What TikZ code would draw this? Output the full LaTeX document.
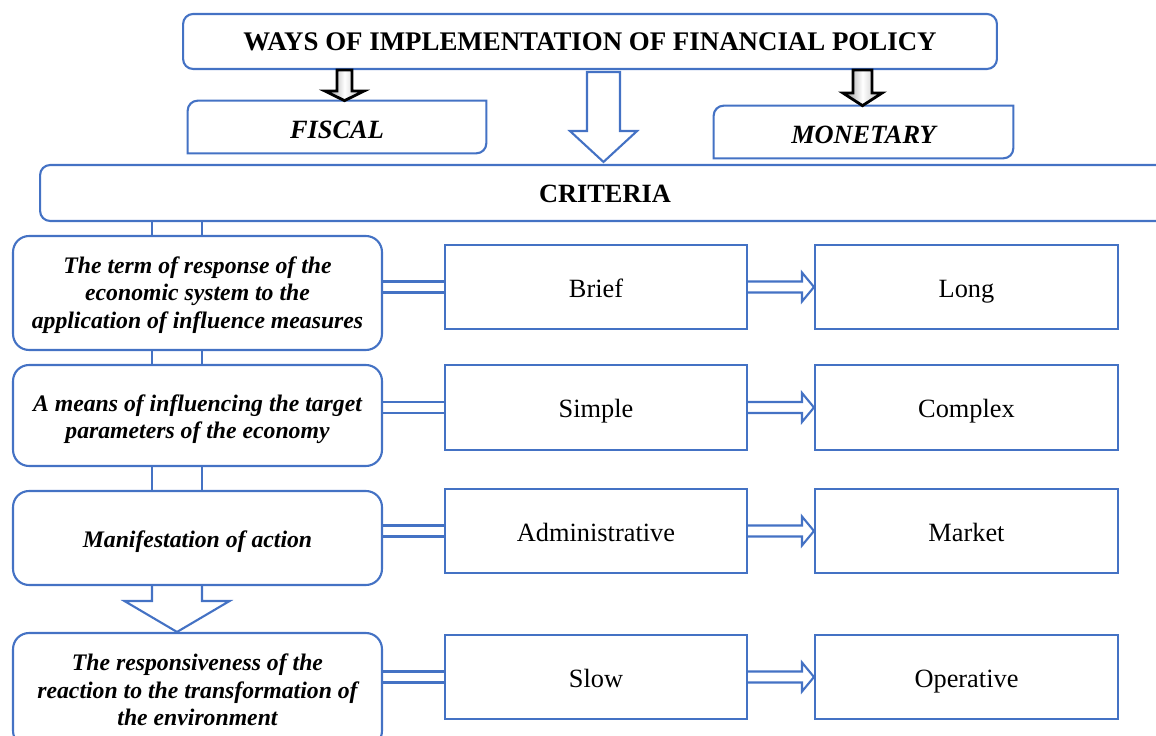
\documentclass[tikz,border=0pt]{standalone}
\usepackage{fontspec}
\setmainfont{Liberation Serif}
\usetikzlibrary{calc}
\definecolor{boxblue}{RGB}{68,114,196}
\begin{document}
\begin{tikzpicture}[x=0.02cm,y=-0.02cm,
  bl/.style={draw=boxblue,line width=1.2pt},
  conn/.style={draw=boxblue,line width=1.2pt},
  txtn/.style={font=\fontsize{15}{18}\selectfont,text height=11.4pt,text depth=0pt},
  txtb/.style={font=\fontsize{15}{18}\selectfont\bfseries,text depth=0pt},
  txtbi/.style={font=\fontsize{15}{18}\selectfont\bfseries\itshape,text height=12.6pt,text depth=0pt},
  lbox/.style={bl,rounded corners=0.32cm,minimum width=7.38cm,inner sep=0pt},
  ltext/.style={align=center,font=\fontsize{13.5}{15.6}\selectfont\bfseries\itshape,inner sep=0pt},
  mbox/.style={bl,minimum width=6.04cm,minimum height=1.69cm,txtn,inner sep=0pt},
  rbox/.style={bl,minimum width=6.06cm,minimum height=1.69cm,txtn,inner sep=0pt},
  garrow/.style={draw=black,line width=1.6pt,line join=miter,left color=gray!90,right color=gray!60,middle color=white}]
\clip (0,0) rectangle (1156,736);

% top
\node[bl,rounded corners=0.2cm,minimum width=16.28cm,minimum height=1.1cm,txtb,font=\fontsize{15.3}{18}\selectfont\bfseries,text height=10.4pt] (top) at (590,41.5) {WAYS OF IMPLEMENTATION OF FINANCIAL POLICY};

\node[minimum width=5.96cm,minimum height=1.04cm,txtbi,inner sep=0pt] (fiscal) at (337,127) {FISCAL};
\draw[bl] (fiscal.west) [rounded corners=0.2cm] -- (fiscal.north west) -- (fiscal.north) [sharp corners] -- (fiscal.north east) -- (fiscal.east) [rounded corners=0.2cm] -- (fiscal.south east) -- (fiscal.south) [sharp corners] -- (fiscal.south west) -- cycle;

\node[minimum width=5.98cm,minimum height=1.04cm,txtbi,inner sep=0pt] (monetary) at (863.5,132) {MONETARY};
\draw[bl] (monetary.west) [rounded corners=0.2cm] -- (monetary.north west) -- (monetary.north) [sharp corners] -- (monetary.north east) -- (monetary.east) [rounded corners=0.2cm] -- (monetary.south east) -- (monetary.south) [sharp corners] -- (monetary.south west) -- cycle;

\node[bl,rounded corners=0.2cm,minimum width=22.6cm,minimum height=1.12cm,txtb,text height=10.6pt,inner sep=0pt] (crit) at (605,193) {CRITERIA};

% left boxes
\node[lbox,minimum height=2.28cm] (L1) at (197.5,293) {};
\node[lbox,minimum height=2.02cm] (L2) at (197.5,415.5) {};
\node[lbox,minimum height=1.88cm] (L3) at (197.5,538) {};
\node[lbox,minimum height=2.28cm] (L4) at (197.5,690) {};
\node[ltext] (L1t) at ($(L1.center)+(0,2)$) {The term of response of the\\economic system to the\\application of influence measures};
\node[ltext] (L2t) at ($(L2.center)+(0,4)$) {A means of influencing the target\\parameters of the economy};
\node[ltext] (L3t) at ($(L3.center)+(0,4)$) {Manifestation of action};
\node[ltext] (L4t) at ($(L4.center)+(0,0)$) {The responsiveness of the\\reaction to the transformation of\\the environment};

% middle and right boxes
\node[mbox] (M1) at (596,287) {Brief};
\node[mbox] (M2) at (596,407.5) {Simple};
\node[mbox] (M3) at (596,531) {Administrative};
\node[mbox] (M4) at (596,677) {Slow};
\node[rbox] (R1) at (966.5,287) {Long};
\node[rbox] (R2) at (966.5,407.5) {Complex};
\node[rbox] (R3) at (966.5,531) {Market};
\node[rbox] (R4) at (966.5,677) {Operative};

\foreach \i in {1,2,3,4}{
  \draw[conn] ($(L\i.east |- M\i.west)+(0,-5.5)$) -- ($(M\i.west)+(0,-5.5)$);
  \draw[conn] ($(L\i.east |- M\i.west)+(0,5.5)$) -- ($(M\i.west)+(0,5.5)$);
  \draw[conn,line join=miter] ($(M\i.east)+(0,-5.5)$) -- ($(R\i.west)+(-12,-5.5)$) -- ($(R\i.west)+(-12,-14.5)$) -- (R\i.west) -- ($(R\i.west)+(-12,14.5)$) -- ($(R\i.west)+(-12,5.5)$) -- ($(M\i.east)+(0,5.5)$);
}

% vertical connectors
\coordinate (v1) at (152,0);
\coordinate (v2) at (202,0);
\foreach \a/\b in {crit/L1,L1/L2,L2/L3}{
  \draw[conn] (\a.south -| v1) -- (\b.north -| v1);
  \draw[conn] (\a.south -| v2) -- (\b.north -| v2);
}

% hollow arrow top -> criteria
\coordinate (a1) at (603.5,0);
\draw[conn,line join=miter] ($(top.south -| a1)+(-16.5,2)$) -- ($(top.south -| a1)+(-16.5,61)$) -- ($(top.south -| a1)+(-33.5,61)$) -- ($(crit.north -| a1)+(0,-2)$) -- ($(top.south -| a1)+(33.5,61)$) -- ($(top.south -| a1)+(16.5,61)$) -- ($(top.south -| a1)+(16.5,2)$) -- cycle;

% hollow arrow L3 -> L4
\coordinate (a2) at (177,0);
\draw[conn,line join=miter] ($(L3.south -| a2)+(-25,0)$) -- ($(L3.south -| a2)+(-25,15)$) -- ($(L3.south -| a2)+(-52.5,15)$) -- (L4.north -| a2) -- ($(L3.south -| a2)+(52.5,15)$) -- ($(L3.south -| a2)+(25,15)$) -- ($(L3.south -| a2)+(25,0)$);

% gray arrows
\coordinate (g1) at (344.5,0);
\path[garrow] ($(top.south -| g1)+(-7.5,0)$) -- ($(top.south -| g1)+(-7.5,21)$) -- ($(top.south -| g1)+(-19.5,21)$) -- (fiscal.north -| g1) -- ($(top.south -| g1)+(19.5,21)$) -- ($(top.south -| g1)+(7.5,21)$) -- ($(top.south -| g1)+(7.5,0)$) -- cycle;
\coordinate (g2) at (862.5,0);
\path[garrow] ($(top.south -| g2)+(-9.5,0)$) -- ($(top.south -| g2)+(-9.5,23)$) -- ($(top.south -| g2)+(-19.5,23)$) -- (monetary.north -| g2) -- ($(top.south -| g2)+(19.5,23)$) -- ($(top.south -| g2)+(9.5,23)$) -- ($(top.south -| g2)+(9.5,0)$) -- cycle;
\end{tikzpicture}
\end{document}
